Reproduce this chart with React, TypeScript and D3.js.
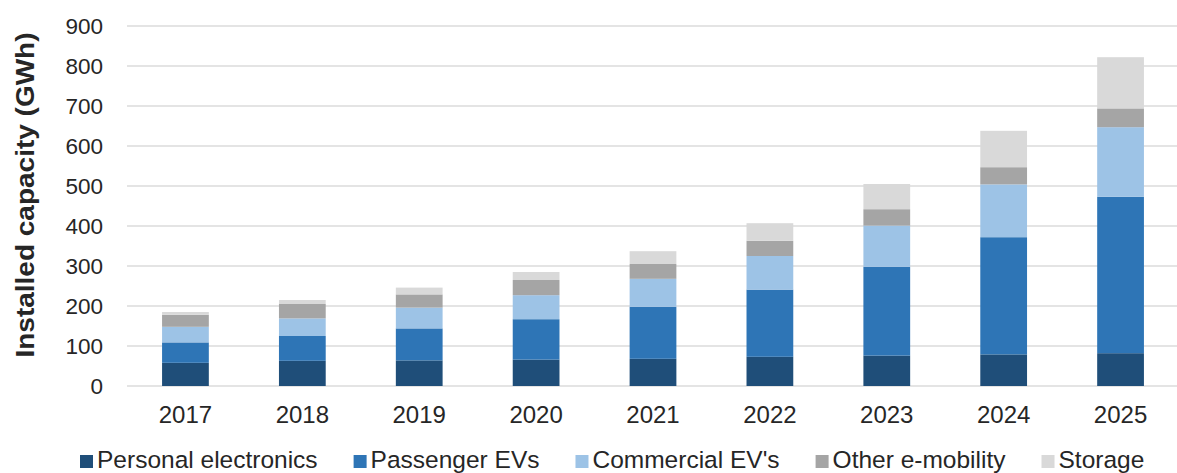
import * as d3 from "d3";
import { useEffect, useRef } from "react";

const years = ["2017", "2018", "2019", "2020", "2021", "2022", "2023", "2024", "2025"];
const seriesNames = ["Personal electronics", "Passenger EVs", "Commercial EV's", "Other e-mobility", "Storage"];
const seriesColors = ["#1f4e79", "#2e75b6", "#9dc3e6", "#a5a5a5", "#d9d9d9"];

const personal = [58, 63, 64, 66, 68, 73, 76, 79, 82];
const passenger = [51, 62, 80, 101, 130, 168, 222, 293, 391];
const commercial = [39, 44, 52, 60, 70, 84, 103, 132, 174];
const otherMobility = [30, 36, 33, 38, 37, 38, 41, 43, 47];
const storage = [7, 10, 17, 20, 32, 44, 63, 91, 128];

const yTicks = [0, 100, 200, 300, 400, 500, 600, 700, 800, 900];

export default function App() {
  const ref = useRef<SVGSVGElement | null>(null);

  useEffect(() => {
    if (!ref.current) return;
    const width = 1177;
    const font = "'Liberation Sans', Arial, sans-serif";
    const textColor = "#262626";

    const svg = d3.select(ref.current);
    svg.selectAll("*").remove();

    const rows = years.map((year, i) => ({
      year,
      "Personal electronics": personal[i],
      "Passenger EVs": passenger[i],
      "Commercial EV's": commercial[i],
      "Other e-mobility": otherMobility[i],
      Storage: storage[i],
    }));

    const layers = d3.stack<any>().keys(seriesNames)(rows);

    const x = d3.scaleBand().domain(years).range([127, 1179]).paddingInner(0.6).paddingOuter(0.3);
    const y = d3.scaleLinear().domain([0, 900]).range([386, 26]);
    const color = d3.scaleOrdinal<string>().domain(seriesNames).range(seriesColors);

    // gridlines
    svg
      .append("g")
      .selectAll("line")
      .data(yTicks)
      .join("line")
      .attr("x1", 127)
      .attr("x2", width)
      .attr("y1", (d) => y(d))
      .attr("y2", (d) => y(d))
      .attr("stroke", "#e4e4e4")
      .attr("stroke-width", 2);

    // y tick labels
    svg
      .append("g")
      .selectAll("text")
      .data(yTicks)
      .join("text")
      .attr("x", 103)
      .attr("y", (d) => y(d))
      .attr("dy", "0.36em")
      .attr("text-anchor", "end")
      .style("font-family", font)
      .style("font-size", "22.5px")
      .attr("fill", textColor)
      .text((d) => d);

    // bars
    svg
      .append("g")
      .selectAll("g")
      .data(layers)
      .join("g")
      .attr("fill", (d) => color(d.key))
      .selectAll("rect")
      .data((d) => d)
      .join("rect")
      .attr("x", (d) => x(d.data.year)!)
      .attr("width", x.bandwidth())
      .attr("y", (d) => y(d[1]))
      .attr("height", (d) => y(d[0]) - y(d[1]));

    // x labels
    svg
      .append("g")
      .selectAll("text")
      .data(years)
      .join("text")
      .attr("x", (d) => x(d)! + x.bandwidth() / 2)
      .attr("y", 414)
      .attr("dy", "0.36em")
      .attr("text-anchor", "middle")
      .style("font-family", font)
      .style("font-size", "24px")
      .attr("fill", textColor)
      .text((d) => d);

    // axis title
    svg
      .append("text")
      .attr("transform", "translate(25,195) rotate(-90)")
      .attr("dy", "0.36em")
      .attr("text-anchor", "middle")
      .attr("textLength", 325)
      .attr("lengthAdjust", "spacingAndGlyphs")
      .style("font-family", font)
      .style("font-size", "25px")
      .style("font-weight", "bold")
      .attr("fill", textColor)
      .text("Installed capacity (GWh)");

    // legend
    const legend = svg.append("g");
    let lx = 80;
    seriesNames.forEach((name) => {
      const item = legend.append("g").attr("transform", `translate(${lx},0)`);
      item
        .append("rect")
        .attr("x", 0)
        .attr("y", 455)
        .attr("width", 13)
        .attr("height", 13)
        .attr("fill", color(name));
      const t = item
        .append("text")
        .attr("x", 17)
        .attr("y", 468)
        .style("font-family", font)
        .style("font-size", "24.5px")
        .attr("fill", textColor)
        .text(name);
      const w = (t.node() as SVGTextElement).getComputedTextLength();
      lx += 17 + w + 36;
    });
  }, []);

  return (
    <svg
      ref={ref}
      width={1177}
      height={473}
      style={{ position: "absolute", left: 0, top: 0, background: "#fff" }}
    />
  );
}
